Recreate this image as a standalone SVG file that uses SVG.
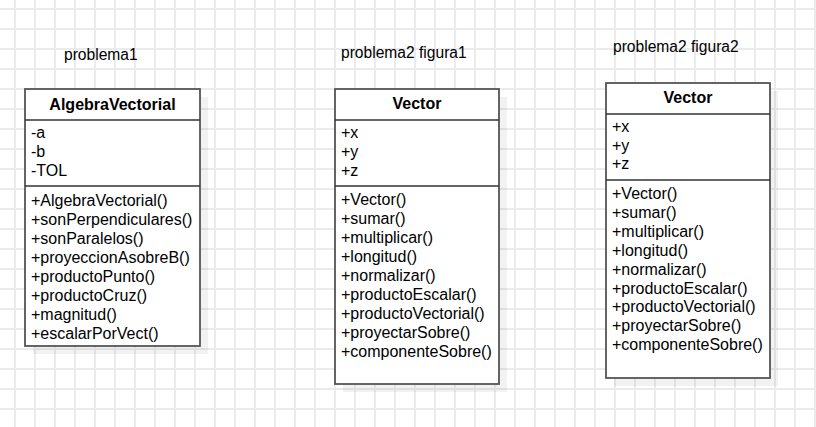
<svg xmlns="http://www.w3.org/2000/svg" width="816" height="427" viewBox="0 0 816 427">
<style>
.t{font-family:"Liberation Sans",Arial,sans-serif;font-size:16px;fill:#000}
.b{font-weight:bold;text-anchor:middle}
.lbl{font-family:"Liberation Sans",Arial,sans-serif;font-size:15.6px;fill:#000}
.box{fill:#fff;stroke:#555;stroke-width:1.8}
.sh{fill:#000;fill-opacity:0.05}
.sep{stroke:#333;stroke-width:1.3}
</style>
<defs>
<pattern id="grid" patternUnits="userSpaceOnUse" width="20" height="20">
<path d="M15 0V20M0 9H20" stroke="#ebebeb" stroke-width="2" fill="none"/>
</pattern>
</defs>
<rect width="816" height="427" fill="#fff"/>
<rect width="816" height="427" fill="url(#grid)"/>
<g id="connectors"></g>
<text class="lbl" x="64" y="60">problema1</text>
<text class="lbl" x="341" y="58">problema2 figura1</text>
<text class="lbl" x="613" y="52">problema2 figura2</text>
<g id="AlgebraVectorial">
<rect class="sh" x="33" y="97" width="175" height="257"/>
<rect class="box" x="25" y="89" width="175" height="257"/>
<line class="sep" x1="25" y1="120" x2="200" y2="120"/>
<line class="sep" x1="25" y1="186" x2="200" y2="186"/>
<text class="t b" x="112.5" y="110">AlgebraVectorial</text>
<text class="t" x="31" y="138">-a</text>
<text class="t" x="31" y="157">-b</text>
<text class="t" x="31" y="176">-TOL</text>
<text class="t" x="31" y="206">+AlgebraVectorial()</text>
<text class="t" x="31" y="225">+sonPerpendiculares()</text>
<text class="t" x="31" y="244">+sonParalelos()</text>
<text class="t" x="31" y="263">+proyeccionAsobreB()</text>
<text class="t" x="31" y="281.5">+productoPunto()</text>
<text class="t" x="31" y="300.5">+productoCruz()</text>
<text class="t" x="31" y="319.5">+magnitud()</text>
<text class="t" x="31" y="338.5">+escalarPorVect()</text>
</g>
<g id="Vector1">
<rect class="sh" x="343" y="97" width="164" height="295"/>
<rect class="box" x="335" y="89" width="164" height="295"/>
<line class="sep" x1="335" y1="120" x2="499" y2="120"/>
<line class="sep" x1="335" y1="186" x2="499" y2="186"/>
<text class="t b" x="417" y="109">Vector</text>
<text class="t" x="341" y="138">+x</text>
<text class="t" x="341" y="157">+y</text>
<text class="t" x="341" y="176">+z</text>
<text class="t" x="341" y="205">+Vector()</text>
<text class="t" x="341" y="224">+sumar()</text>
<text class="t" x="341" y="243">+multiplicar()</text>
<text class="t" x="341" y="262">+longitud()</text>
<text class="t" x="341" y="281">+normalizar()</text>
<text class="t" x="341" y="300">+productoEscalar()</text>
<text class="t" x="341" y="319">+productoVectorial()</text>
<text class="t" x="341" y="338">+proyectarSobre()</text>
<text class="t" x="341" y="357">+componenteSobre()</text>
</g>
<g id="Vector2">
<rect class="sh" x="614" y="91" width="164" height="295"/>
<rect class="box" x="606" y="83" width="164" height="295"/>
<line class="sep" x1="606" y1="114" x2="770" y2="114"/>
<line class="sep" x1="606" y1="180" x2="770" y2="180"/>
<text class="t b" x="688" y="103">Vector</text>
<text class="t" x="612" y="131.5">+x</text>
<text class="t" x="612" y="150.5">+y</text>
<text class="t" x="612" y="169">+z</text>
<text class="t" x="612" y="198.5">+Vector()</text>
<text class="t" x="612" y="217.5">+sumar()</text>
<text class="t" x="612" y="236.5">+multiplicar()</text>
<text class="t" x="612" y="255.5">+longitud()</text>
<text class="t" x="612" y="274.5">+normalizar()</text>
<text class="t" x="612" y="293.5">+productoEscalar()</text>
<text class="t" x="612" y="312">+productoVectorial()</text>
<text class="t" x="612" y="331">+proyectarSobre()</text>
<text class="t" x="612" y="350">+componenteSobre()</text>
</g>
</svg>
